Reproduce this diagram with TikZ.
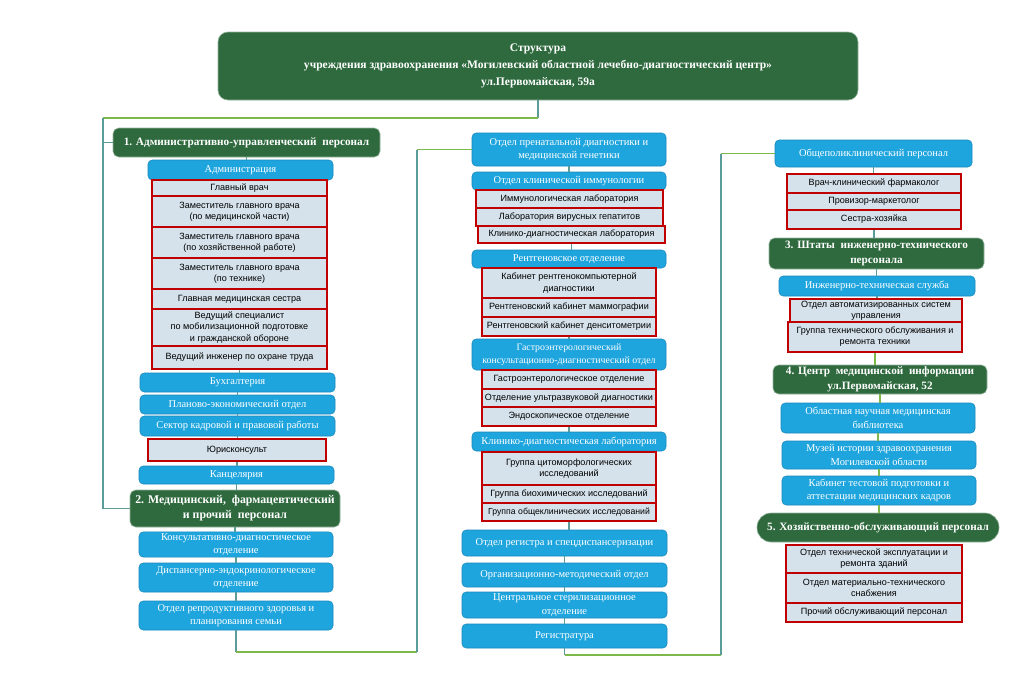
\documentclass[tikz,border=0pt]{standalone}
\usepackage{fontspec}
\setmainfont{Liberation Serif}
\newfontfamily\arialf{Liberation Sans}
\usetikzlibrary{positioning}

\definecolor{dgreen}{HTML}{2E6A3E}
\definecolor{sky}{HTML}{1FA5DE}
\definecolor{skyedge}{HTML}{1788BA}
\definecolor{pale}{HTML}{D5E2EB}
\definecolor{redline}{HTML}{C00000}
\definecolor{tealline}{HTML}{5B9C9B}
\definecolor{grline}{HTML}{7DB84B}

\tikzset{
  sz/.style 2 args={minimum width=#1*0.025cm, minimum height=#2*0.025cm},
  grp/.style={fill=dgreen, draw=dgreen!50!white, rounded corners=4pt, text=white,
    font=\bfseries\fontsize{8}{10.6}\selectfont, align=center, inner sep=1pt},
  dept/.style={fill=sky, draw=skyedge, rounded corners=3pt, text=white,
    font=\fontsize{7.45}{9.6}\selectfont, align=center, inner sep=1pt},
  staff/.style={fill=pale, draw=redline, line width=0.8pt, text=black,
    font=\arialf\fontsize{6.45}{7.9}\selectfont, align=center, inner sep=1pt},
  tl/.style={draw=tealline, line width=1.4pt},
  gl/.style={draw=grline, line width=1.4pt},
}

\begin{document}
\begin{tikzpicture}[x=0.025cm, y=-0.025cm]

  \useasboundingbox (0,0) rectangle (1024,678);

  % --- titolo ---
  \node[grp, sz={640}{68}, rounded corners=7pt, font=\bfseries\fontsize{8.2}{12}\selectfont] (title) at (538,66)
    {Структура\\учреждения здравоохранения «Могилевский областной лечебно-диагностический центр»\\ул.Первомайская, 59а};

  % --- colonna sinistra ---
  \node[grp, sz={267}{29}] (h1) at (246.5,142.5) {1. Административно-управленческий\ \ персонал};
  \node[dept, sz={185}{20}] (adm) at (240.5,170) {Администрация};
  \node[staff, sz={175}{16}] (gv) at (239.5,188) {Главный врач};
  \node[staff, sz={175}{31}] (zam1) at (239.5,211.5) {Заместитель главного врача\\(по медицинской части)};
  \node[staff, sz={175}{31}] (zam2) at (239.5,242.5) {Заместитель главного врача\\(по хозяйственной работе)};
  \node[staff, sz={175}{31}] (zam3) at (239.5,273.5) {Заместитель главного врача\\(по технике)};
  \node[staff, sz={175}{20}] (gms) at (239.5,299) {Главная медицинская сестра};
  \node[staff, sz={175}{37}] (vsp) at (239.5,327.5) {Ведущий специалист\\по мобилизационной подготовке\\и гражданской обороне};
  \node[staff, sz={175}{23}] (vio) at (239.5,357.5) {Ведущий инженер по охране труда};
  \node[dept, sz={195}{19}] (buh) at (237.5,382.5) {Бухгалтерия};
  \node[dept, sz={195}{19}] (plan) at (237.5,404.5) {Планово-экономический отдел};
  \node[dept, sz={195}{20}] (sekt) at (237.5,426) {Сектор кадровой и правовой работы};
  \node[staff, sz={178}{22}] (yur) at (237,450) {Юрисконсульт};
  \node[dept, sz={195}{18}] (kanc) at (236.5,475) {Канцелярия};
  \node[grp, sz={210}{37}, font=\bfseries\fontsize{8.4}{10.8}\selectfont] (h2) at (235,508.5)
    {2. Медицинский,\ \ фармацевтический\\и прочий\ \ персонал};
  \node[dept, sz={194}{25}] (kdo) at (236,544.5) {Консультативно-диагностическое\\отделение};
  \node[dept, sz={194}{29}] (deo) at (236,577.5) {Диспансерно-эндокринологическое\\отделение};
  \node[dept, sz={194}{29}] (orz) at (236,615.5) {Отдел репродуктивного здоровья и\\планирования семьи};

  % --- colonna centrale ---
  \node[dept, sz={194}{33}] (prenat) at (569,149.5) {Отдел пренатальной диагностики и\\медицинской генетики};
  \node[dept, sz={194}{18}] (kli) at (569,181) {Отдел клинической иммунологии};
  \node[staff, sz={187}{18}] (iml) at (569.5,199) {Иммунологическая лаборатория};
  \node[staff, sz={187}{18}] (lvg) at (569.5,217) {Лаборатория вирусных гепатитов};
  \node[staff, sz={187}{17}] (kdl) at (571.5,234.5) {Клинико-диагностическая лаборатория};
  \node[dept, sz={194}{18}] (rent) at (569,259) {Рентгеновское отделение};
  \node[staff, sz={174}{30}] (rkt) at (569,283) {Кабинет рентгенокомпьютерной\\диагностики};
  \node[staff, sz={174}{19}] (mam) at (569,307.5) {Рентгеновский кабинет маммографии};
  \node[staff, sz={174}{19}] (dens) at (569,326.5) {Рентгеновский кабинет денситометрии};
  \node[dept, sz={194}{31}, font=\fontsize{7}{9.6}\selectfont] (gastro) at (569,354.5) {Гастроэнтерологический\\консультационно-диагностический отдел};
  \node[staff, sz={174}{19}] (gas1) at (569,379.5) {Гастроэнтерологическое отделение};
  \node[staff, sz={174}{18}] (uzd) at (569,398) {Отделение ультразвуковой диагностики};
  \node[staff, sz={174}{19}] (endo) at (569,416.5) {Эндоскопическое отделение};
  \node[dept, sz={194}{19}] (kdlab) at (569,441.5) {Клинико-диагностическая лаборатория};
  \node[staff, sz={174}{33}] (cito) at (569,468.5) {Группа цитоморфологических\\исследований};
  \node[staff, sz={174}{18}] (bioh) at (569,494) {Группа биохимических исследований};
  \node[staff, sz={174}{18}, font=\arialf\fontsize{6.2}{7.9}\selectfont] (obkl) at (569,512) {Группа общеклинических исследований};
  \node[dept, sz={205}{26}] (reg) at (564.5,543) {Отдел регистра и спецдиспансеризации};
  \node[dept, sz={205}{24}] (orgm) at (564.5,575) {Организационно-методический отдел};
  \node[dept, sz={205}{26}] (cso) at (564.5,605) {Центральное стерилизационное\\отделение};
  \node[dept, sz={205}{24}] (regt) at (564.5,636) {Регистратура};

  % --- colonna destra ---
  \node[dept, sz={197}{27}] (opp) at (873.5,153.5) {Общеполиклинический персонал};
  \node[staff, sz={174}{19}] (kfarm) at (874,183.5) {Врач-клинический фармаколог};
  \node[staff, sz={174}{17}] (prov) at (874,201.5) {Провизор-маркетолог};
  \node[staff, sz={174}{19}] (sestra) at (874,219.5) {Сестра-хозяйка};
  \node[grp, sz={215}{31}] (h3) at (876.5,253.5) {3. Штаты\ \ инженерно-технического\\персонала};
  \node[dept, sz={196}{20}] (its) at (877,286) {Инженерно-техническая служба};
  \node[staff, sz={172}{23}] (oasu) at (876,310.5) {Отдел автоматизированных систем\\управления};
  \node[staff, sz={174}{30}] (gto) at (875,337) {Группа технического обслуживания и\\ремонта техники};
  \node[grp, sz={214}{29}] (h4) at (880,379.5) {4. Центр\ \ медицинской\ \ информации\\ул.Первомайская,\ 52};
  \node[dept, sz={194}{30}] (bibl) at (878,418) {Областная научная медицинская\\библиотека};
  \node[dept, sz={194}{28}] (muz) at (879,455) {Музей истории здравоохранения\\Могилевской области};
  \node[dept, sz={194}{29}] (kab) at (879,490.5) {Кабинет тестовой подготовки и\\аттестации медицинских кадров};
  \node[grp, sz={242}{29}, rounded corners=10pt] (h5) at (878,527.5) {5. Хозяйственно-обслуживающий персонал};
  \node[staff, sz={176}{28}] (ote) at (874,559) {Отдел технической эксплуатации и\\ремонта зданий};
  \node[staff, sz={176}{30}] (omts) at (874,588) {Отдел материально-технического\\снабжения};
  \node[staff, sz={176}{19}] (pop) at (874,612.5) {Прочий обслуживающий персонал};

  % --- collegamenti nelle colonne ---
  \foreach \a/\b in {h1/adm, vio/buh, buh/plan, plan/sekt, sekt/yur, yur/kanc, kanc/h2,
      h2/kdo, kdo/deo, deo/orz, prenat/kli, kdl/rent, dens/gastro, endo/kdlab, obkl/reg,
      reg/orgm, orgm/cso, cso/regt, opp/kfarm, sestra/h3, h3/its, its/oasu}
    \draw[tl] (\a.south) -- (\a.south |- \b.north);
  \foreach \a/\b in {gto/h4, h4/bibl, bibl/muz, muz/kab, kab/h5}
    \draw[gl] (\a.south) -- (\a.south |- \b.north);

  % --- collegamenti lunghi ---
  \coordinate (ta) at (538,118);
  \coordinate (tb) at (103,118);
  \draw[tl] (title.south) -- (title.south |- ta);
  \draw[gl] (title.south |- ta) -- (tb);
  \draw[tl] (tb) |- (h2.west);
  \draw[tl] (tb |- h1.west) -- (h1.west);

  \coordinate (la) at (240,652);
  \coordinate (lb) at (417,652);
  \draw[tl] (orz.south) -- (orz.south |- la);
  \draw[gl] (orz.south |- la) -- (lb);
  \draw[tl] (lb) -- (lb |- prenat.west);
  \draw[gl] (lb |- prenat.west) -- (prenat.west);

  \coordinate (ma) at (575,655);
  \coordinate (mb) at (721,655);
  \draw[tl] (regt.south) -- (regt.south |- ma);
  \draw[gl] (regt.south |- ma) -- (mb);
  \draw[tl] (mb) -- (mb |- opp.west);
  \draw[gl] (mb |- opp.west) -- (opp.west);

\end{tikzpicture}
\end{document}
